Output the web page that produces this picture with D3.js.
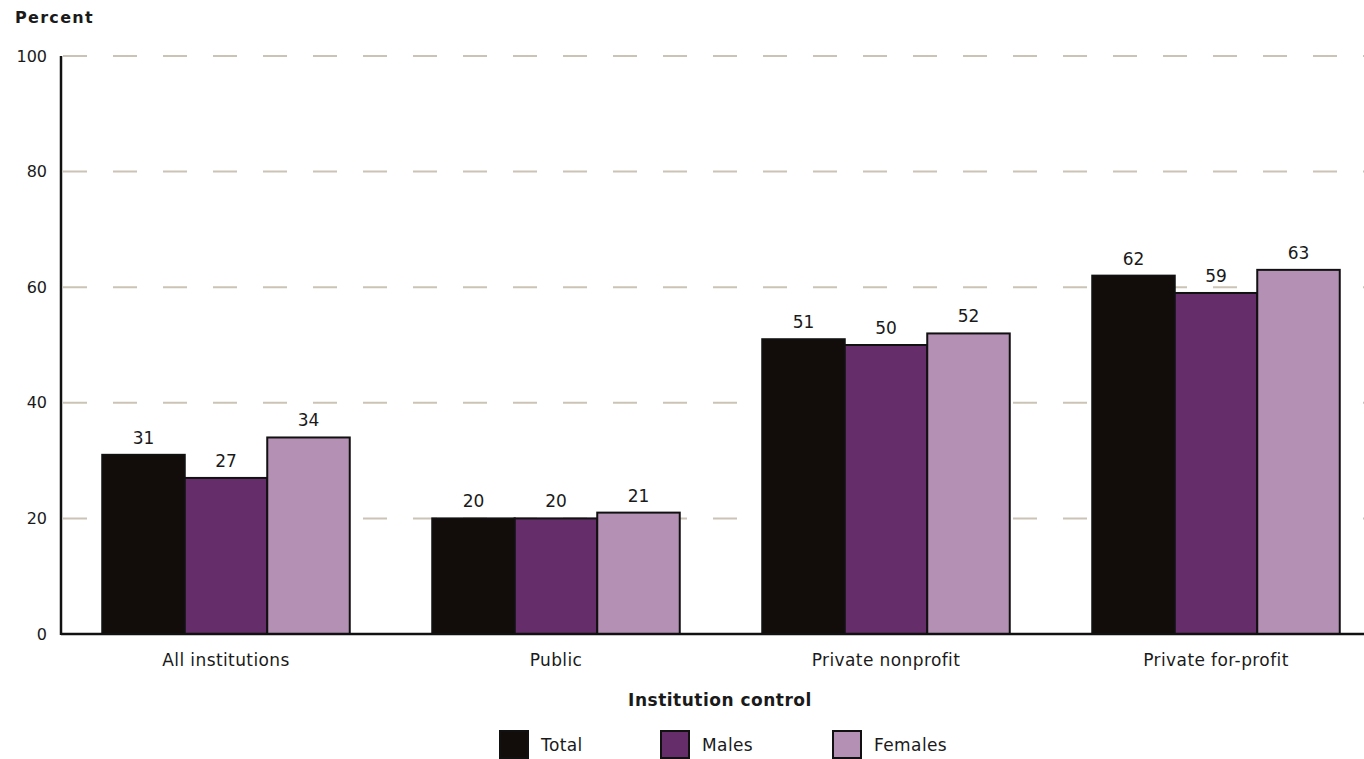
<!DOCTYPE html>
<html>
<head>
<meta charset="utf-8">
<script src="https://cdn.jsdelivr.net/npm/d3@7"></script>
<style>
  body { margin: 0; background: #fff; }
  text { font-family: "DejaVu Sans", sans-serif; fill: #1a1a1a; }
</style>
</head>
<body>
<div id="chart"></div>
<script>
const categories = ["All institutions", "Public", "Private nonprofit", "Private for-profit"];
const seriesNames = ["Total", "Males", "Females"];
const totalValues = [31, 20, 51, 62];
const maleValues = [27, 20, 50, 59];
const femaleValues = [34, 21, 52, 63];
const yTicks = [0, 20, 40, 60, 80, 100];
const colors = ["#120d0a", "#662d6b", "#b590b5"];

const width = 1364, height = 759;
const margin = { top: 56, right: -17, bottom: 125, left: 61 };

const svg = d3.select("#chart").append("svg")
    .attr("width", width)
    .attr("height", height);

const x0 = d3.scaleBand()
    .domain(categories)
    .range([margin.left, width - margin.right])
    .paddingInner(0.25)
    .paddingOuter(0.125);

const x1 = d3.scaleBand()
    .domain(seriesNames)
    .range([0, x0.bandwidth()]);

const y = d3.scaleLinear()
    .domain([0, 100])
    .range([height - margin.bottom, margin.top]);

// gridlines
svg.append("g")
    .selectAll("line")
    .data(yTicks.filter(d => d > 0))
    .join("line")
    .attr("x1", margin.left + 2)
    .attr("x2", width)
    .attr("y1", d => y(d))
    .attr("y2", d => y(d))
    .attr("stroke", "#cbc3b5")
    .attr("stroke-width", 2)
    .attr("stroke-dasharray", "24,26");

// y tick labels
svg.append("g")
    .selectAll("text")
    .data(yTicks)
    .join("text")
    .attr("x", margin.left - 14)
    .attr("y", d => y(d))
    .attr("dy", "0.35em")
    .attr("text-anchor", "end")
    .style("font-size", "16px")
    .text(d => d);

svg.append("text")
    .attr("x", 15)
    .attr("y", 23)
    .style("font-size", "16px")
    .style("font-weight", "bold")
    .style("letter-spacing", "1.3px")
    .text("Percent");

const data = categories.map((c, i) => ({
    category: c,
    values: [totalValues[i], maleValues[i], femaleValues[i]]
}));

const group = svg.append("g")
    .selectAll("g")
    .data(data)
    .join("g")
    .attr("transform", d => `translate(${x0(d.category)},0)`);

group.selectAll("rect")
    .data(d => d.values.map((v, j) => ({ key: seriesNames[j], value: v, idx: j })))
    .join("rect")
    .attr("x", d => x1(d.key))
    .attr("y", d => y(d.value))
    .attr("width", x1.bandwidth())
    .attr("height", d => y(0) - y(d.value))
    .attr("fill", d => colors[d.idx])
    .attr("stroke", "#111")
    .attr("stroke-width", 2);

group.selectAll("text")
    .data(d => d.values.map((v, j) => ({ key: seriesNames[j], value: v })))
    .join("text")
    .attr("x", d => x1(d.key) + x1.bandwidth() / 2)
    .attr("y", d => y(d.value) - 11)
    .attr("text-anchor", "middle")
    .style("font-size", "17px")
    .text(d => d.value);

// axes lines
svg.append("line")
    .attr("x1", margin.left).attr("x2", margin.left)
    .attr("y1", y(100)).attr("y2", y(0) + 1)
    .attr("stroke", "#111").attr("stroke-width", 2.5);
svg.append("line")
    .attr("x1", margin.left).attr("x2", width)
    .attr("y1", y(0)).attr("y2", y(0))
    .attr("stroke", "#111").attr("stroke-width", 2.5);

// category labels
svg.append("g")
    .selectAll("text")
    .data(categories)
    .join("text")
    .attr("x", d => x0(d) + x0.bandwidth() / 2)
    .attr("y", y(0) + 32)
    .attr("text-anchor", "middle")
    .style("font-size", "17px")
    .style("letter-spacing", "0.4px")
    .text(d => d);

svg.append("text")
    .attr("x", 720)
    .attr("y", 706)
    .attr("text-anchor", "middle")
    .style("font-size", "17px")
    .style("font-weight", "bold")
    .style("letter-spacing", "0.5px")
    .text("Institution control");

// legend
const legendX = [500, 661, 833];
const legend = svg.append("g")
    .selectAll("g")
    .data(seriesNames)
    .join("g")
    .attr("transform", (d, i) => `translate(${legendX[i]},731)`);

legend.append("rect")
    .attr("width", 28)
    .attr("height", 27)
    .attr("fill", (d, i) => colors[i])
    .attr("stroke", "#111")
    .attr("stroke-width", 2);

legend.append("text")
    .attr("x", 41)
    .attr("y", 14)
    .attr("dy", "0.35em")
    .style("font-size", "17px")
    .style("letter-spacing", "0.4px")
    .text(d => d);
</script>
</body>
</html>
